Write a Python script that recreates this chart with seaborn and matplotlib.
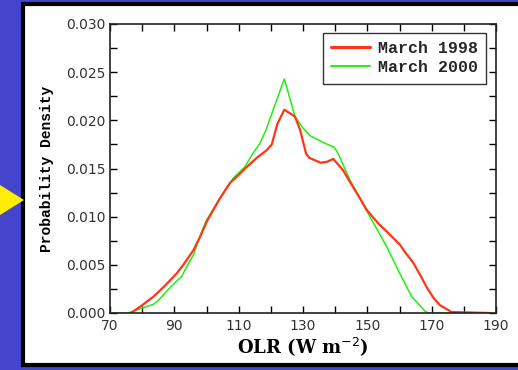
import matplotlib
matplotlib.use("Agg")
import matplotlib.pyplot as plt
from matplotlib.patches import Rectangle, Polygon
from matplotlib.lines import Line2D
from matplotlib.ticker import MultipleLocator, FormatStrFormatter
import pandas as pd
import seaborn as sns

# OLR bins (W m-2) and probability density
olr_1998 = [76.5, 80, 83.5, 87, 90.7, 93, 95.9, 98, 100.1, 104, 107.3, 109.9, 112,
            115.6, 118.7, 120.3, 122, 124.2, 127.5, 129.1, 131, 132, 135.5, 137.5,
            139.4, 142.5, 144.6, 147.7, 149.8, 153.4, 156.5, 160.1, 162, 164.3,
            166.5, 168.4, 170.5, 172.6, 176.2, 188]
pdf_1998 = [0.0, 0.0008, 0.0017, 0.0028, 0.0041, 0.0051, 0.0065, 0.0079, 0.0095,
            0.0118, 0.0135, 0.0143, 0.0150, 0.0161, 0.0169, 0.0175, 0.0196, 0.0211,
            0.0204, 0.0190, 0.0165, 0.0161, 0.0156, 0.0157, 0.0160, 0.0148, 0.0136,
            0.0119, 0.0107, 0.0093, 0.0083, 0.0071, 0.0062, 0.0052, 0.0039, 0.0027,
            0.0016, 0.0008, 0.0001, 0.0]

olr_2000 = [70, 75.7, 79, 83.5, 85, 88, 91, 92.3, 94, 95.9, 98, 100.1, 104.2, 108.3,
            112, 114.5, 116.6, 118.5, 120.3, 124.2, 127.5, 130, 132.2, 136.3, 139.7,
            141, 144.6, 147.7, 150.8, 153.5, 156, 160.1, 163.8, 167.9, 169, 180]
pdf_2000 = [0.0, 0.0, 0.0004, 0.0009, 0.0013, 0.0024, 0.0034, 0.0038, 0.0049, 0.0060,
            0.0080, 0.0097, 0.0119, 0.0140, 0.0152, 0.0166, 0.0176, 0.0190, 0.0207,
            0.0243, 0.0204, 0.0192, 0.0184, 0.0177, 0.0172, 0.0165, 0.0138, 0.0119,
            0.0100, 0.0084, 0.0069, 0.0041, 0.0017, 0.0002, 0.0, 0.0]

labels = ["March 1998", "March 2000"]
colors = {labels[0]: "#ff3515", labels[1]: "#22ee11"}

df = pd.concat([
    pd.DataFrame({"olr": olr_1998, "pdf": pdf_1998, "month": labels[0]}),
    pd.DataFrame({"olr": olr_2000, "pdf": pdf_2000, "month": labels[1]}),
])

sns.set_style("ticks")
fig = plt.figure(figsize=(5.18, 3.70), dpi=100, facecolor="#4444cc")

# white slide panel and yellow pointer, behind the axes
fig.patches.append(Rectangle((23 / 518, 5 / 370), 1.0, 361 / 370, transform=fig.transFigure,
                             facecolor="white", edgecolor="black", linewidth=3, zorder=-2))
fig.patches.append(Polygon([(0, 1 - 185 / 370), (24 / 518, 1 - 200 / 370), (0, 1 - 215 / 370)],
                           closed=True, transform=fig.transFigure, facecolor="#ffee00",
                           edgecolor="none", zorder=-1))

ax = fig.add_axes([110 / 518, 1 - 313 / 370, 386 / 518, 289 / 370])
ax.set_facecolor("white")

sns.lineplot(data=df, x="olr", y="pdf", hue="month", hue_order=labels[::-1],
             palette=colors, size="month", sizes={labels[0]: 1.6, labels[1]: 1.1},
             sort=False, estimator=None, ax=ax, legend=False)

ax.set_xlim(70, 190)
ax.set_ylim(0, 0.030)
ax.xaxis.set_major_locator(MultipleLocator(20, offset=10))
ax.xaxis.set_minor_locator(MultipleLocator(10))
ax.yaxis.set_major_locator(MultipleLocator(0.005))
ax.yaxis.set_minor_locator(MultipleLocator(0.0025))
ax.yaxis.set_major_formatter(FormatStrFormatter("%.3f"))
ax.tick_params(which="both", direction="in", top=True, right=True, color="black",
               labelcolor="#333333", labelsize=10, width=1, length=5)
ax.tick_params(axis="x", pad=4)
ax.tick_params(axis="y", pad=3)
for lab in ax.get_xticklabels() + ax.get_yticklabels():
    lab.set_family("DejaVu Sans")
for sp in ax.spines.values():
    sp.set_linewidth(1.2)
    sp.set_color("#222222")

ax.set_xlabel("OLR (W m$^{-2}$)", labelpad=2, family="DejaVu Serif", weight="bold",
              size=13, color="black")
ax.set_ylabel("Probability Density", labelpad=9, family="Liberation Mono", weight="bold",
              size=10.5, color="black")

handles = [Line2D([], [], color=colors[labels[0]], lw=2.2),
           Line2D([], [], color=colors[labels[1]], lw=1.4)]
leg = ax.legend(handles, labels, loc="upper right", bbox_to_anchor=(0.975, 0.97),
                frameon=True, fancybox=False, edgecolor="black", handlelength=2.3,
                handletextpad=0.5, borderpad=0.5, borderaxespad=0, labelspacing=0.25,
                prop=dict(family="Liberation Mono", weight="bold", size=12))
leg.get_frame().set_linewidth(1.0)

fig.savefig("out.png", dpi=100, facecolor=fig.get_facecolor())
